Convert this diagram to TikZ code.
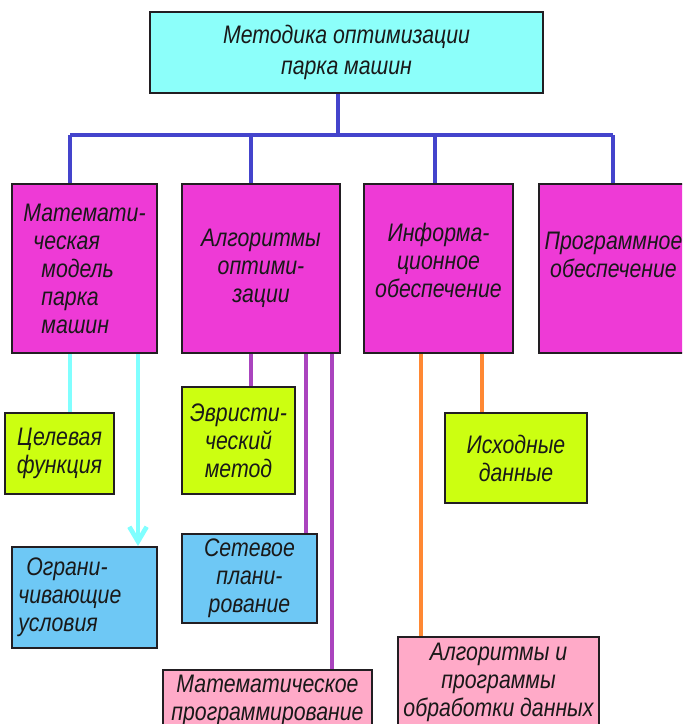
\documentclass[tikz,border=0pt]{standalone}
\usepackage{fontspec}
\setmainfont[FakeStretch=0.84]{Liberation Sans}
\usetikzlibrary{arrows.meta}

\definecolor{topfill}{RGB}{140,255,250}
\definecolor{magfill}{RGB}{238,58,214}
\definecolor{limefill}{RGB}{204,255,17}
\definecolor{skyfill}{RGB}{110,200,245}
\definecolor{pinkfill}{RGB}{255,170,200}
\definecolor{edge}{RGB}{34,30,34}
\definecolor{busblue}{RGB}{68,68,204}
\definecolor{cyanline}{RGB}{128,255,255}
\definecolor{purpleline}{RGB}{170,68,190}
\definecolor{orangeline}{RGB}{255,136,51}

\tikzset{
  % a box given by its corners (x1,y1) and (x2,y2) in picture units
  corners/.style n args={4}{at={({(#1+#3)/2},{(#2+#4)/2})},
    minimum width={(#3-#1)*0.75pt}, minimum height={(#4-#2)*0.75pt}},
  box/.style={draw=edge, line width=1.5pt, inner sep=0pt, align=center,
    text=black!90, font=\itshape\fontsize{19}{21}\selectfont},
  topbox/.style={box, fill=topfill, font=\itshape\fontsize{19}{23}\selectfont},
  magbox/.style={box, fill=magfill},
  limebox/.style={box, fill=limefill},
  skybox/.style={box, fill=skyfill},
  pinkbox/.style={box, fill=pinkfill},
  busline/.style={draw=busblue, line width=3pt},
  cyanlink/.style={draw=cyanline, line width=3.5pt},
  purplelink/.style={draw=purpleline, line width=3pt},
  orangelink/.style={draw=orangeline, line width=3pt},
}

\begin{document}
\begin{tikzpicture}[x=0.75pt,y=-0.75pt]
\useasboundingbox (0,0) rectangle (682,724);
\clip (0,0) rectangle (682,724);

% boxes
\node[topbox, corners={150}{12}{543}{93}] (top) {Методика оптимизации\\парка машин};

\node[magbox, corners={12}{184}{157}{353}, align=left] (mat)
  {Математи-\\\hspace*{7.5pt}ческая\\\hspace*{13.5pt}модель\\\hspace*{13.5pt}парка\\\hspace*{13.5pt}машин};
\node[magbox, corners={182}{184}{340}{353}] (alg) {Алгоритмы\\оптими-\\зации};
\node[magbox, corners={364}{184}{513}{353}] (inf) {Информа-\\ционное\\обеспечение\\[-9pt]\mbox{}};
\node[magbox, corners={539}{184}{688}{353}] (prog) {Программное\\обеспечение\\\mbox{}};

\node[limebox, corners={5}{413}{114}{494}] (cel) {Целевая\\функция};
\node[limebox, corners={182}{387}{295}{494}] (evr) {Эвристи-\\ческий\\метод};
\node[limebox, corners={445}{413}{587}{503}] (isx) {Исходные\\данные};

\node[skybox, corners={12}{547}{157}{648}, align=left] (ogr)
  {\hspace*{6pt}Ограни-\\чивающие\rule{22pt}{0pt}\\условия};
\node[skybox, corners={182}{534}{317}{623}] (set) {Сетевое\\плани-\\рование};

\node[pinkbox, corners={163}{670}{372}{730}] (mp) {Математическое\\программирование};
\node[pinkbox, corners={398}{637}{599}{727}] (apd) {Алгоритмы и\\программы\\обработки данных};

% blue bus from the top box to the four main boxes
\coordinate (j0) at (338,135);
\coordinate (j1) at (70,135);
\coordinate (j2) at (251,135);
\coordinate (j3) at (435,135);
\coordinate (j4) at (613,135);

\draw[busline] (338,0 |- top.south) -- (j0);
\draw[busline] (j1) -- (j4);
\draw[busline] (j1) -- (j1 |- mat.north);
\draw[busline] (j2) -- (j2 |- alg.north);
\draw[busline] (j3) -- (j3 |- inf.north);
\draw[busline] (j4) -- (j4 |- prog.north);

% lower links
\draw[cyanlink] (70,0 |- mat.south) -- (70,0 |- cel.north);
\draw[cyanlink, -{Straight Barb[length=11pt,width=13pt]}] (138,0 |- mat.south) -- (138,0 |- ogr.north);

\draw[purplelink] (251,0 |- alg.south) -- (251,0 |- evr.north);
\draw[purplelink] (306,0 |- alg.south) -- (306,0 |- set.north);
\draw[purplelink] (332,0 |- alg.south) -- (332,0 |- mp.north);

\draw[orangelink] (421,0 |- inf.south) -- (421,0 |- apd.north);
\draw[orangelink] (482,0 |- inf.south) -- (482,0 |- isx.north);
\end{tikzpicture}
\end{document}
